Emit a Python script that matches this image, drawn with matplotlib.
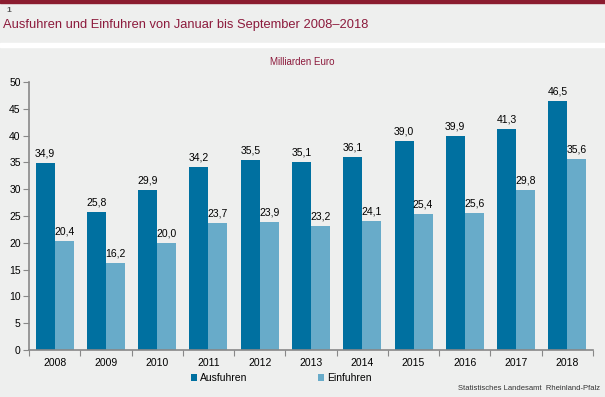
import numpy as np
import matplotlib
matplotlib.use("Agg")
import matplotlib.pyplot as plt
from matplotlib.patches import Rectangle

plt.rcParams['font.family'] = ['Liberation Sans', 'DejaVu Sans']

years = ['2008', '2009', '2010', '2011', '2012', '2013', '2014', '2015', '2016', '2017', '2018']
ausfuhren = [34.9, 25.8, 29.9, 34.2, 35.5, 35.1, 36.1, 39.0, 39.9, 41.3, 46.5]
einfuhren = [20.4, 16.2, 20.0, 23.7, 23.9, 23.2, 24.1, 25.4, 25.6, 29.8, 35.6]

c_aus = '#0070a0'
c_ein = '#68abc9'
bg = '#eeefee'
red = '#8c1a3c'

W, H = 605, 397
fig = plt.figure(figsize=(W / 100, H / 100), dpi=100)
fig.patch.set_facecolor(bg)

# header bands
fig.patches.append(Rectangle((0, 1 - 3 / H), 1, 3 / H, transform=fig.transFigure, color='#8b1c2f', zorder=0))
fig.patches.append(Rectangle((0, 1 - 47 / H), 1, 4 / H, transform=fig.transFigure, color='white', zorder=0))
fig.text(6 / W, 1 - 10 / H, '1', fontsize=6, color='#555555', va='center', ha='left', fontweight='bold')
fig.text(3 / W, 1 - 25 / H, 'Ausfuhren und Einfuhren von Januar bis September 2008\u20132018',
         fontsize=9.3, color=red, va='center', ha='left')
fig.text(0.5, 1 - 62 / H, 'Milliarden Euro', fontsize=7, color=red, va='center', ha='center')

ax = fig.add_axes([29 / W, 47 / H, (593 - 29) / W, (350 - 82) / H])
ax.set_facecolor(bg)

x = np.arange(len(years)) + 0.5
w = 0.37
b1 = ax.bar(x - w / 2, ausfuhren, w, color=c_aus, label='Ausfuhren')
b2 = ax.bar(x + w / 2, einfuhren, w, color=c_ein, label='Einfuhren')

for xi, v in zip(x - w / 2, ausfuhren):
    ax.text(xi, v + 0.8, f'{v:.1f}'.replace('.', ','), ha='center', va='bottom', fontsize=7.5)
for xi, v in zip(x + w / 2, einfuhren):
    ax.text(xi, v + 0.8, f'{v:.1f}'.replace('.', ','), ha='center', va='bottom', fontsize=7.5)

ax.set_xlim(0, len(years))
ax.set_ylim(0, 50)
ax.set_yticks(np.arange(0, 51, 5))
ax.set_xticks(np.arange(len(years) + 1))
ax.set_xticklabels([])
ax.set_xticks(x, minor=True)
ax.set_xticklabels(years, minor=True)
ax.tick_params(axis='x', which='minor', length=0, pad=6, labelsize=7.5)
ax.tick_params(axis='x', which='major', length=4, color='#888888', direction='out')
ax.tick_params(axis='y', length=4, color='#888888', labelsize=7.5, pad=2)
for s in ['top', 'right']:
    ax.spines[s].set_visible(False)
for s in ['left', 'bottom']:
    ax.spines[s].set_color('#888888')
    ax.spines[s].set_linewidth(1.2)

leg = fig.legend(handles=[b1, b2], labels=['Ausfuhren', 'Einfuhren'], loc='center',
                 bbox_to_anchor=(0.465, 1 - 378 / H), ncol=2, frameon=False, fontsize=7.5,
                 handlelength=0.6, handleheight=0.6, handletextpad=0.3, columnspacing=6.8)

fig.text(600 / W, 1 - 389 / H, 'Statistisches Landesamt  Rheinland-Pfalz', fontsize=5.5,
         color='#333333', ha='right', va='center')

fig.savefig('out.png', dpi=100, facecolor=bg)
